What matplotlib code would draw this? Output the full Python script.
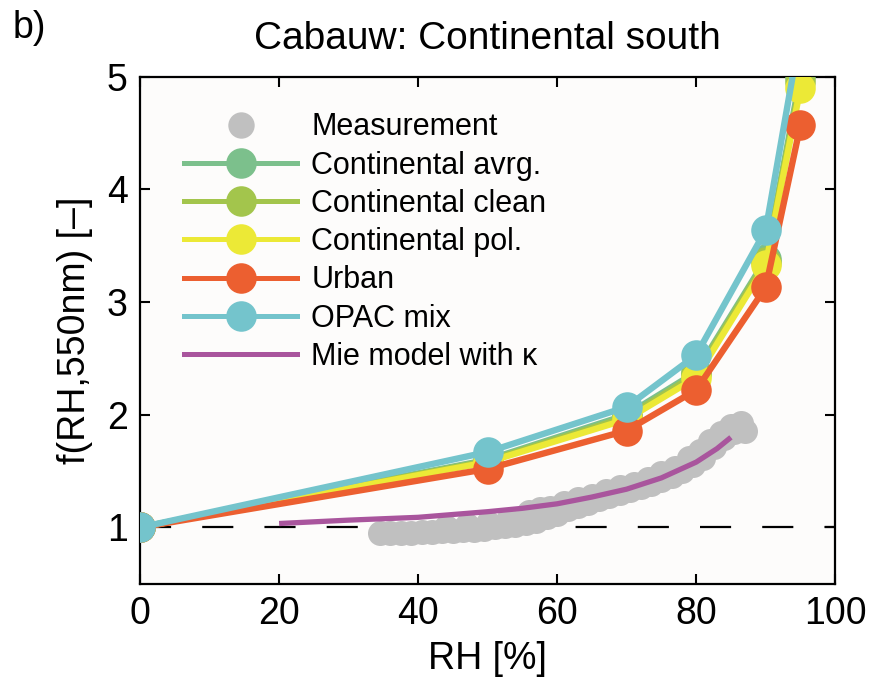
import matplotlib
matplotlib.use("Agg")
import matplotlib.pyplot as plt
from matplotlib.lines import Line2D

plt.rcParams['font.family'] = ['Liberation Sans', 'DejaVu Sans']

# ---- data ----
rh_model = [0, 50, 70, 80, 90, 95]
cont_avrg = [1.0, 1.60, 2.00, 2.38, 3.38, 5.00]
cont_clean = [1.0, 1.59, 1.98, 2.36, 3.36, 4.95]
cont_pol = [1.0, 1.58, 1.96, 2.33, 3.33, 4.90]
urban = [1.0, 1.52, 1.86, 2.22, 3.13, 4.57]
opac_mix = [1.0, 1.67, 2.07, 2.53, 3.64, 5.40]

meas_rh = [34.5, 36, 37.5, 39, 40.5, 42, 43.5, 45, 46.5, 48, 49.5, 51, 52.5, 54,
           55.5, 57, 58.5, 60, 61.5, 63, 64.5, 66, 67.5, 69, 70.5, 72, 73.5, 75,
           76.5, 78, 79.5, 81, 82.5, 84, 85.5, 87,
           44, 47, 50, 53, 56, 57.5, 59, 61, 63, 65, 67, 69, 71, 73, 75, 77, 79,
           80.5, 82, 83.5, 85, 86.5]
meas_f = [0.955, 0.95, 0.95, 0.955, 0.96, 0.96, 0.965, 0.97, 0.975, 0.98, 0.99,
          1.00, 1.01, 1.02, 1.04, 1.06, 1.09, 1.12, 1.16, 1.19, 1.22, 1.25, 1.28,
          1.31, 1.33, 1.36, 1.39, 1.42, 1.46, 1.50, 1.55, 1.62, 1.71, 1.79, 1.85,
          1.86,
          1.00, 1.02, 1.04, 1.07, 1.14, 1.16, 1.17, 1.22, 1.25, 1.28, 1.32, 1.36,
          1.39, 1.43, 1.48, 1.53, 1.62, 1.68, 1.77, 1.84, 1.90, 1.93]

mie_rh = [20, 25, 30, 40, 50, 55, 60, 65, 70, 75, 80, 83, 85]
mie_f = [1.035, 1.05, 1.065, 1.09, 1.14, 1.17, 1.21, 1.27, 1.34, 1.44, 1.58, 1.70, 1.80]

labels = ['Measurement', 'Continental avrg.', 'Continental clean',
          'Continental pol.', 'Urban', 'OPAC mix', 'Mie model with κ']
x_ticks = [0, 20, 40, 60, 80, 100]
y_ticks = [1, 2, 3, 4, 5]

c_gray = '#c0c0c0'
c_avrg = '#7cc08c'
c_clean = '#a3c54c'
c_pol = '#ece936'
c_urban = '#ec5f30'
c_opac = '#74c4cc'
c_mie = '#a9559d'

fig = plt.figure(figsize=(8.7, 6.86), dpi=100)
ax = fig.add_axes([0.161, 0.149, 0.799, 0.739])
ax.set_facecolor('#fdfcfb')

ax.plot([0, 100], [1, 1], color='black', lw=1.6, dashes=(14, 14), zorder=1)

ax.plot(meas_rh, meas_f, 'o', color=c_gray, ms=18, mec='none', zorder=2)
ax.plot(mie_rh, mie_f, '-', color=c_mie, lw=3.8, zorder=3, solid_capstyle='butt')

ms = 22
lw = 4.6
for vals, c in [(cont_avrg, c_avrg), (cont_clean, c_clean), (cont_pol, c_pol),
                (urban, c_urban), (opac_mix, c_opac)]:
    ax.plot(rh_model, vals, '-o', color=c, lw=lw, ms=ms, mec='none', zorder=4)

ax.set_xlim(0, 100)
ax.set_ylim(0.5, 5)
ax.set_xticks(x_ticks)
ax.set_yticks(y_ticks)
ax.tick_params(direction='in', top=True, right=True, length=7, width=1.5,
               labelsize=27, pad=9)
for s in ax.spines.values():
    s.set_linewidth(1.6)

ax.set_xlabel('RH [%]', fontsize=27, labelpad=6)
ax.set_ylabel('f(RH,550nm) [–]', fontsize=27, labelpad=10)
ax.set_title('Cabauw: Continental south', fontsize=28, pad=20)
fig.text(0.015, 0.985, 'b)', fontsize=27, va='top', ha='left')

handles = [
    Line2D([], [], ls='none', marker='o', color=c_gray, ms=19, mec='none'),
    Line2D([], [], color=c_avrg, lw=3.6, marker='o', ms=22, mec='none'),
    Line2D([], [], color=c_clean, lw=3.6, marker='o', ms=22, mec='none'),
    Line2D([], [], color=c_pol, lw=3.6, marker='o', ms=22, mec='none'),
    Line2D([], [], color=c_urban, lw=3.6, marker='o', ms=22, mec='none'),
    Line2D([], [], color=c_opac, lw=3.6, marker='o', ms=22, mec='none'),
    Line2D([], [], color=c_mie, lw=3.6),
]
leg = ax.legend(handles, labels, loc='upper left', bbox_to_anchor=(0.055, 0.942),
                frameon=False, fontsize=22, handlelength=3.7, handletextpad=0.45,
                labelspacing=0.27, numpoints=1, borderpad=0.2, borderaxespad=0)

fig.savefig('out.png', dpi=100)
